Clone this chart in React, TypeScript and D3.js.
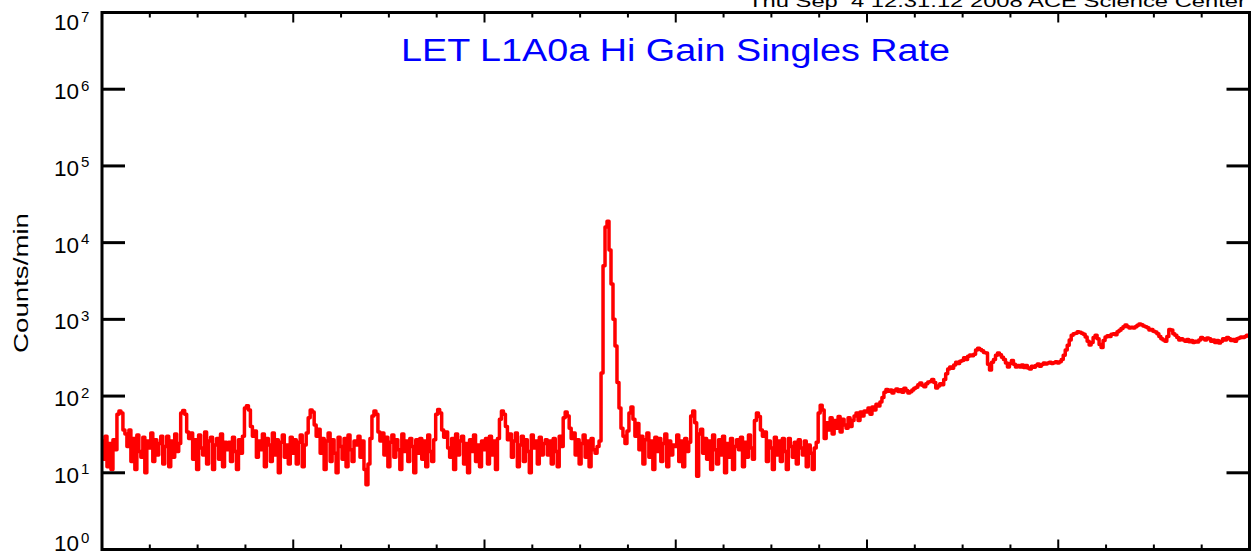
import React from 'react';
import * as d3 from 'd3';

// Hours per sample (6 days shown, 0..144 h)
const HOURS_PER_POINT = 0.25;
const X_DOMAIN: [number, number] = [0, 144];
const Y_DOMAIN: [number, number] = [1, 1e7];

// Counts/min, one row = 8 hours (32 samples)
const row00 = [26, 15, 30, 12, 24, 11, 27, 20, 58, 64, 60, 36, 32, 22, 36, 14, 28, 11, 31, 19, 16, 29, 10, 26, 21, 33, 14, 27, 17, 24, 30, 13];
const row01 = [22, 30, 12, 26, 16, 32, 19, 24, 60, 65, 58, 34, 28, 33, 15, 27, 11, 31, 21, 17, 34, 13, 26, 29, 11, 23, 28, 15, 32, 12, 25, 20];
const row02 = [25, 14, 29, 19, 11, 27, 18, 30, 70, 75, 66, 40, 30, 35, 16, 26, 20, 32, 12, 28, 23, 14, 33, 17, 27, 10, 25, 31, 16, 23, 13, 29];
const row03 = [18, 27, 13, 25, 31, 12, 23, 33, 52, 66, 62, 42, 30, 37, 18, 28, 11, 26, 33, 14, 27, 18, 10, 29, 22, 15, 28, 12, 31, 20, 14, 26];
const row04 = [23, 30, 16, 26, 11, 7, 13, 28, 55, 64, 58, 34, 26, 33, 17, 29, 12, 25, 31, 16, 27, 20, 11, 32, 19, 26, 14, 28, 22, 10, 27, 18];
const row05 = [28, 15, 26, 12, 31, 19, 14, 27, 58, 67, 60, 36, 29, 34, 21, 16, 28, 11, 32, 17, 26, 30, 13, 24, 10, 27, 19, 31, 14, 23, 12, 26];
const row06 = [20, 28, 13, 30, 17, 26, 11, 28, 50, 64, 58, 40, 27, 32, 16, 26, 33, 12, 23, 30, 14, 27, 19, 10, 31, 21, 26, 13, 29, 17, 24, 27];
const row07 = [17, 26, 13, 28, 19, 12, 30, 22, 52, 62, 55, 38, 28, 33, 17, 27, 13, 24, 31, 16, 26, 12, 28, 20, 18, 22, 26, 200, 5000, 16000, 19000, 8000];
const row08 = [2900, 1000, 450, 150, 70, 38, 30, 24, 35, 60, 72, 50, 30, 44, 20, 30, 13, 27, 33, 16, 26, 11, 29, 19, 28, 14, 24, 32, 12, 26, 17, 23];
const row09 = [22, 31, 14, 26, 12, 28, 19, 25, 55, 64, 45, 9, 32, 37, 18, 28, 15, 26, 11, 31, 20, 13, 27, 17, 30, 10, 24, 16, 28, 11, 22, 27];
const row10 = [20, 29, 12, 25, 16, 31, 21, 15, 48, 60, 54, 36, 30, 34, 14, 26, 21, 11, 29, 17, 26, 14, 28, 19, 11, 28, 22, 16, 25, 13, 27, 21];
const row11 = [17, 26, 12, 23, 18, 11, 21, 25, 60, 76, 66, 28, 45, 36, 52, 32, 48, 38, 54, 34, 50, 42, 38, 52, 40, 48, 55, 60, 48, 62, 55, 64];
const row12 = [62, 70, 58, 72, 66, 78, 74, 84, 96, 112, 122, 116, 120, 110, 118, 124, 115, 121, 112, 126, 118, 110, 114, 120, 126, 130, 140, 148, 138, 132, 145, 152];
const row13 = [155, 165, 150, 127, 135, 145, 140, 165, 195, 225, 240, 230, 255, 277, 265, 285, 290, 317, 300, 330, 343, 335, 350, 400, 420, 405, 390, 370, 364, 260, 218, 277];
const row14 = [300, 340, 364, 345, 320, 300, 270, 239, 265, 290, 260, 239, 250, 240, 255, 235, 250, 232, 225, 245, 238, 250, 262, 245, 258, 270, 262, 269, 275, 265, 272, 280];
const row15 = [270, 280, 300, 340, 400, 460, 540, 620, 650, 660, 690, 680, 660, 640, 590, 520, 462, 500, 580, 620, 560, 470, 430, 530, 590, 610, 600, 640, 650, 630, 690, 720];
const row16 = [760, 800, 843, 800, 770, 790, 771, 800, 840, 869, 850, 820, 800, 780, 724, 740, 700, 683, 650, 600, 560, 537, 520, 600, 740, 724, 650, 620, 580, 537, 560, 540];
const row17 = [520, 545, 510, 530, 500, 520, 506, 540, 580, 560, 540, 570, 560, 520, 540, 500, 530, 491, 520, 560, 540, 580, 560, 530, 545, 520, 560, 570, 590, 580, 600, 620, 610];

const rates: number[] = [
  ...row00, ...row01, ...row02, ...row03, ...row04, ...row05,
  ...row06, ...row07, ...row08, ...row09, ...row10, ...row11,
  ...row12, ...row13, ...row14, ...row15, ...row16, ...row17,
];

const yTickExponents = [0, 1, 2, 3, 4, 5, 6, 7];
const xMajorHours = [0, 24, 48, 72, 96, 120, 144];
const xMinorHours = [6, 12, 18, 30, 36, 42, 54, 60, 66, 78, 84, 90, 102, 108, 114, 126, 132, 138];

const TITLE = 'LET L1A0a Hi Gain Singles Rate';
const STAMP = 'Thu Sep  4 12:31:12 2008 ACE Science Center';
const Y_LABEL = 'Counts/min';

const W = 1252;
const H = 556;
const L = 102;
const R = 1249.5;
const T = 12.5;
const B = 549.5;

export default function App() {
  const x = d3.scaleLinear().domain(X_DOMAIN).range([L, R]);
  const y = d3.scaleLog().domain(Y_DOMAIN).range([B, T]);
  const pts = rates.map((v, i) => [i * HOURS_PER_POINT, v] as [number, number]);
  const line = d3
    .line<[number, number]>()
    .x((d) => x(d[0]))
    .y((d) => y(d[1]))
    .curve(d3.curveStep);
  const font = '"Liberation Sans", Arial, sans-serif';
  return (
    <svg
      width={W}
      height={H}
      style={{ position: 'absolute', left: 0, top: 0, background: '#fff' }}
    >
      <rect x={0} y={0} width={W} height={H} fill="#fff" />
      <defs>
        <clipPath id="plot">
          <rect x={L} y={T} width={R - L} height={B - T} />
        </clipPath>
      </defs>
      <text
        x={1246}
        y={7}
        textAnchor="end"
        fontFamily={font}
        fontSize={17}
        textLength={498}
        lengthAdjust="spacingAndGlyphs"
        style={{ whiteSpace: 'pre' }}
      >
        {STAMP}
      </text>
      <text
        x={401}
        y={61}
        fontFamily={font}
        fontSize={31}
        fill="#0000ff"
        textLength={549}
        lengthAdjust="spacingAndGlyphs"
      >
        {TITLE}
      </text>
      <path
        d={line(pts) || ''}
        fill="none"
        stroke="#ff0000"
        strokeWidth={3.5}
        strokeLinejoin="round"
        strokeLinecap="round"
        clipPath="url(#plot)"
      />
      {/* y ticks */}
      {yTickExponents.map((e) => {
        const yy = y(Math.pow(10, e));
        const base = Math.min(Math.max(yy + 10, 30), 551);
        return (
          <g key={'y' + e}>
            <line x1={L} x2={L + 23} y1={yy} y2={yy} stroke="#000" strokeWidth={3} />
            <line x1={R - 23} x2={R} y1={yy} y2={yy} stroke="#000" strokeWidth={3} />
            <text x={54} y={base} fontFamily={font} fontSize={22.5} fill="#000">
              10
              <tspan dx={2} dy={-8.5} fontSize={15}>
                {String(e)}
              </tspan>
            </text>
          </g>
        );
      })}
      {/* x ticks */}
      {xMajorHours.map((h) => (
        <g key={'xM' + h}>
          <line x1={x(h)} x2={x(h)} y1={T} y2={T + 10} stroke="#000" strokeWidth={2} />
          <line x1={x(h)} x2={x(h)} y1={B} y2={B - 10} stroke="#000" strokeWidth={2} />
        </g>
      ))}
      {xMinorHours.map((h) => (
        <g key={'xm' + h}>
          <line x1={x(h)} x2={x(h)} y1={T} y2={T + 5} stroke="#000" strokeWidth={2} />
          <line x1={x(h)} x2={x(h)} y1={B} y2={B - 5} stroke="#000" strokeWidth={2} />
        </g>
      ))}
      <rect
        x={L}
        y={T}
        width={R - L}
        height={B - T}
        fill="none"
        stroke="#000"
        strokeWidth={3}
      />
      <text
        transform={`translate(27.5, 283) rotate(-90)`}
        textAnchor="middle"
        fontFamily={font}
        fontSize={20.5}
        textLength={140}
        lengthAdjust="spacingAndGlyphs"
      >
        {Y_LABEL}
      </text>
    </svg>
  );
}
